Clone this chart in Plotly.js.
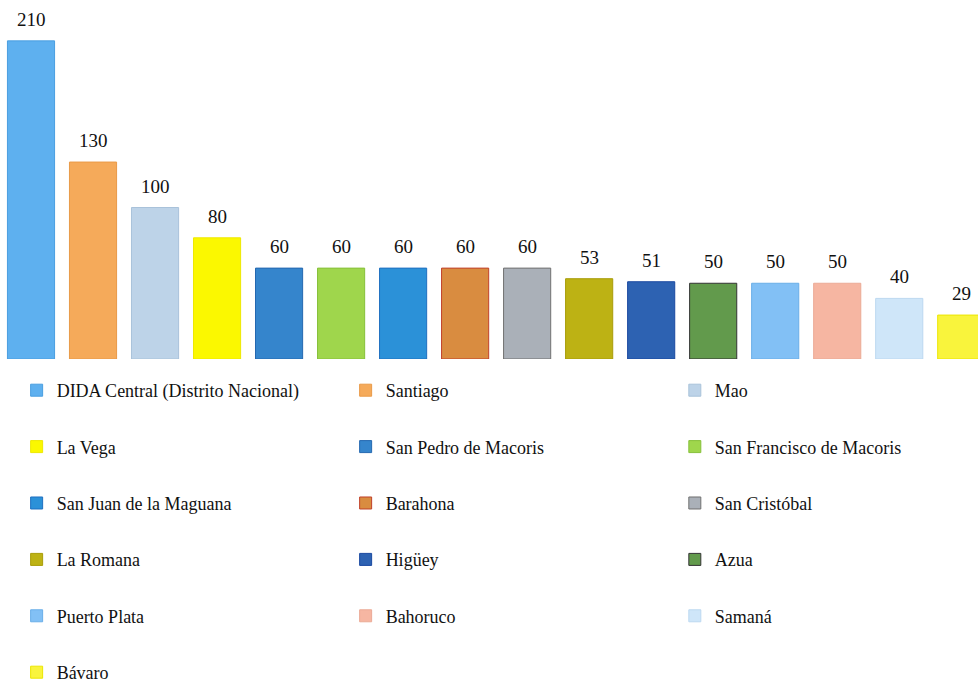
<!DOCTYPE html>
<html>
<head>
<meta charset="utf-8">
<script src="https://cdn.plot.ly/plotly-3.0.1.min.js"></script>
<style>html,body{margin:0;padding:0;background:#fff;}#chart{width:978px;height:684px;}</style>
</head>
<body>
<div id="chart"></div>
<script>
const categories = ["DIDA Central (Distrito Nacional)", "Santiago", "Mao", "La Vega", "San Pedro de Macoris", "San Francisco de Macoris", "San Juan de la Maguana", "Barahona", "San Cristóbal", "La Romana", "Higüey", "Azua", "Puerto Plata", "Bahoruco", "Samaná", "Bávaro"];
const values = [210, 130, 100, 80, 60, 60, 60, 60, 60, 53, 51, 50, 50, 50, 40, 29];
const colors = ["#5eb0ef", "#f5aa5a", "#bdd3e8", "#fbf800", "#3585cc", "#9fd64c", "#2b91d8", "#d98c40", "#aab0b8", "#bdb214", "#2d62b2", "#629a4c", "#82c0f5", "#f6b6a2", "#cfe6f9", "#f9f43c"];
const outlines = ["#4a9ee0", "#e99a48", "#a9c2da", "#eee800", "#2468b0", "#86c03a", "#1f70c0", "#c0402a", "#707070", "#a89c08", "#1a48a0", "#333333", "#6aaee8", "#ebaa96", "#bcd8f0", "#ece600"];

const legendNames = ["legend", "legend2", "legend3"];
const traces = categories.map((c, i) => ({
  type: "bar",
  x: [c],
  y: [values[i]],
  name: c,
  legendgroup: "g" + i,
  marker: {color: colors[i], line: {color: outlines[i], width: 1}},
  legend: legendNames[i % 3],
  hoverinfo: "x+y"
}));

const annotations = categories.map((c, i) => ({
  x: c, y: values[i], xref: "x", yref: "y",
  text: String(values[i]), showarrow: false,
  yanchor: "bottom", yshift: 9,
  font: {family: "Liberation Serif, Times New Roman, serif", size: 19, color: "#111"}
}));

const colX = [0.017, 0.3534, 0.690];
const legendBase = {
  orientation: "v", xanchor: "left", yanchor: "top", y: -0.0365,
  tracegroupgap: 30, traceorder: "grouped",
  font: {family: "Liberation Serif, Times New Roman, serif", size: 18, color: "#111"},
  bgcolor: "rgba(0,0,0,0)", borderwidth: 0
};
const layout = {
  width: 978, height: 684,
  margin: {l: 0, r: 0, t: 3, b: 325, autoexpand: false},
  paper_bgcolor: "#fff", plot_bgcolor: "#fff",
  bargap: 0.24,
  showlegend: true,
  xaxis: {visible: false, range: [-0.5, 15.27], categoryorder: "array", categoryarray: categories},
  yaxis: {visible: false, range: [0, 235]},
  annotations: annotations
};
legendNames.forEach((n, k) => {
  layout[n] = Object.assign({}, legendBase, {x: colX[k]});
});

Plotly.newPlot("chart", traces, layout, {displayModeBar: false, staticPlot: true});
</script>
</body>
</html>
